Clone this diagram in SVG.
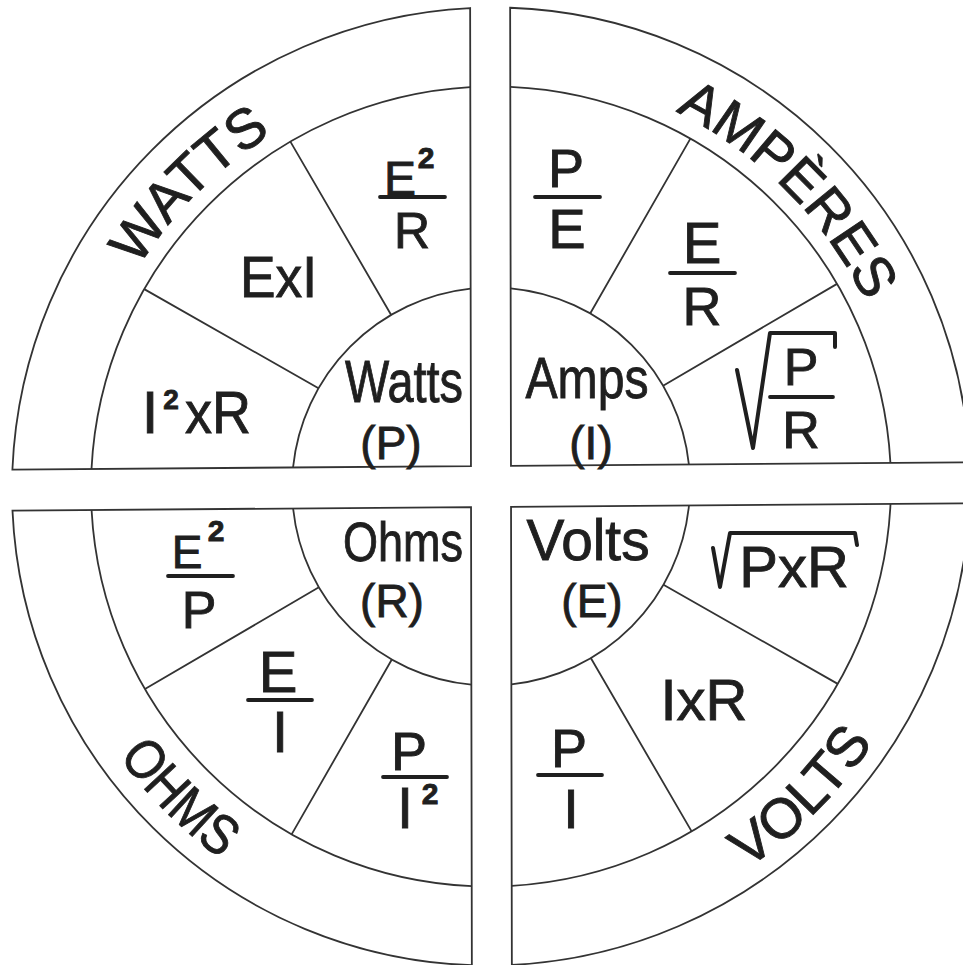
<svg xmlns="http://www.w3.org/2000/svg" width="963" height="965" viewBox="0 0 963 965">
<style>
.q{fill:#fff;stroke:#333;stroke-width:1.8}
.ln{fill:none;stroke:#333;stroke-width:1.8}
.t{font-family:"Liberation Sans",Arial,sans-serif;fill:#1f1f1f;stroke:#1f1f1f;stroke-width:0.9;text-anchor:middle}
.bar{stroke:#1f1f1f;stroke-width:3.8;stroke-linecap:round}
.rad{fill:none;stroke:#1f1f1f;stroke-width:4;stroke-linejoin:round;stroke-linecap:round}
.sup{font-weight:bold}
</style>
<defs>
<path id="pW" d="M82.3,414.4 A415,415 0 0 1 418.9,77.8"/>
<path id="pA" d="M563.6,74.9 A418,418 0 0 1 902.6,413.9"/>
<path id="pO" d="M38,566.4 A460,460 0 0 0 411.1,939.5"/>
<path id="pV" d="M570.9,939.5 A460,460 0 0 0 944,566.4"/>
</defs>
<rect width="963" height="965" fill="#fff"/>

<g id="watts">
 <g transform="matrix(1 -0.0075 0.0018 1 -0.875 3.68)">
  <path class="q" d="M471,466 L471,7.92 A479,479 0 0 0 12.44,466 Z"/>
  <path class="ln" d="M471,87 A400,400 0 0 0 91.53,466"/>
  <path class="ln" d="M471,288.5 A199,199 0 0 0 293.06,466"/>
  <path class="ln" d="M391.5,314.2 L291,140.1 M318.7,387 L144.6,286.5"/>
 </g>
 <text class="t" font-size="56"><textPath href="#pW" startOffset="50%">WATTS</textPath></text>
 <text class="t" x="404" y="402" font-size="60" textLength="118" lengthAdjust="spacingAndGlyphs">Watts</text>
 <text class="t" x="391" y="459" font-size="46">(P)</text>
 <text class="t" x="278.5" y="297" font-size="58" textLength="77" lengthAdjust="spacingAndGlyphs">ExI</text>
 <g id="watts-i2xr">
  <text class="t" x="150" y="433" font-size="60">I</text>
  <text class="t sup" x="171" y="409" font-size="28">2</text>
  <text class="t" x="218" y="433" font-size="60" textLength="66" lengthAdjust="spacingAndGlyphs">xR</text>
 </g>
 <g id="watts-e2r">
  <text class="t" x="400" y="195" font-size="48">E</text>
  <text class="t sup" x="426" y="168" font-size="30">2</text>
  <line class="bar" x1="380" y1="197" x2="445" y2="197"/>
  <text class="t" x="412" y="248" font-size="50">R</text>
 </g>
</g>

<g id="amps">
 <g transform="matrix(1 -0.0075 0.0018 1 -0.875 3.68)">
  <path class="q" d="M511,466 L511,7.92 A479,479 0 0 1 969.56,466 Z"/>
  <path class="ln" d="M511,87 A400,400 0 0 1 890.47,466"/>
  <path class="ln" d="M511,288.5 A199,199 0 0 1 688.94,466"/>
  <path class="ln" d="M590.5,314.2 L691,140.1 M663.3,387 L837.4,286.5"/>
 </g>
 <text class="t" font-size="56"><textPath href="#pA" startOffset="50%">AMPÈRES</textPath></text>
 <text class="t" x="587" y="398" font-size="58" textLength="123" lengthAdjust="spacingAndGlyphs">Amps</text>
 <text class="t" x="591" y="459" font-size="46">(I)</text>
 <g id="amps-pe">
  <text class="t" x="566" y="187" font-size="54">P</text>
  <line class="bar" x1="535" y1="197" x2="600" y2="197"/>
  <text class="t" x="567" y="248" font-size="56">E</text>
 </g>
 <g id="amps-er">
  <text class="t" x="702" y="263" font-size="58">E</text>
  <line class="bar" x1="670" y1="273" x2="735" y2="273"/>
  <text class="t" x="702" y="325" font-size="54">R</text>
 </g>
 <g id="amps-sqrt">
  <polyline class="rad" points="737,370 753,448 770,333 835,333 835,347"/>
  <text class="t" x="801" y="385" font-size="52">P</text>
  <line class="bar" x1="770" y1="397" x2="833" y2="397"/>
  <text class="t" x="801" y="448" font-size="52">R</text>
 </g>
</g>

<g id="ohms">
 <g transform="matrix(1 -0.0075 0.0018 1 -0.875 3.68)">
  <path class="q" d="M471,507 L12.44,507 A479,479 0 0 0 471,965.08 Z"/>
  <path class="ln" d="M91.53,507 A400,400 0 0 0 471,886"/>
  <path class="ln" d="M293.06,507 A199,199 0 0 0 471,684.5"/>
  <path class="ln" d="M318.7,586 L144.6,686.5 M391.5,658.8 L291,832.9"/>
 </g>
 <text class="t" font-size="56"><textPath href="#pO" startOffset="50%" textLength="145" lengthAdjust="spacingAndGlyphs">OHMS</textPath></text>
 <text class="t" x="403" y="561" font-size="56" textLength="120" lengthAdjust="spacingAndGlyphs">Ohms</text>
 <text class="t" x="392" y="617" font-size="46">(R)</text>
 <g id="ohms-e2p">
  <text class="t" x="187" y="568" font-size="46">E</text>
  <text class="t sup" x="216" y="541" font-size="30">2</text>
  <line class="bar" x1="168" y1="576" x2="233" y2="576"/>
  <text class="t" x="199" y="628" font-size="52">P</text>
 </g>
 <g id="ohms-ei">
  <text class="t" x="278" y="692" font-size="58">E</text>
  <line class="bar" x1="248" y1="700" x2="312" y2="700"/>
  <text class="t" x="280" y="752" font-size="58">I</text>
 </g>
 <g id="ohms-pi2">
  <text class="t" x="409" y="770" font-size="54">P</text>
  <line class="bar" x1="383" y1="777" x2="447" y2="777"/>
  <text class="t" x="405" y="828" font-size="58">I</text>
  <text class="t sup" x="430" y="804" font-size="30">2</text>
 </g>
</g>

<g id="volts">
 <g transform="matrix(1 -0.0075 0.0018 1 -0.875 3.68)">
  <path class="q" d="M511,507 L969.56,507 A479,479 0 0 1 511,965.08 Z"/>
  <path class="ln" d="M890.47,507 A400,400 0 0 1 511,886"/>
  <path class="ln" d="M688.94,507 A199,199 0 0 1 511,684.5"/>
  <path class="ln" d="M663.3,586 L837.4,686.5 M590.5,658.8 L691,832.9"/>
 </g>
 <text class="t" font-size="56"><textPath href="#pV" startOffset="50%">VOLTS</textPath></text>
 <text class="t" x="588" y="560" font-size="58" textLength="123" lengthAdjust="spacingAndGlyphs">Volts</text>
 <text class="t" x="592" y="617" font-size="46">(E)</text>
 <g id="volts-sqrt">
  <polyline class="rad" points="713,548 720,587 730,533 855,533 857,545"/>
  <text class="t" x="794" y="587" font-size="58">PxR</text>
 </g>
 <text class="t" x="704" y="720" font-size="58">IxR</text>
 <g id="volts-pi">
  <text class="t" x="569" y="767" font-size="54">P</text>
  <line class="bar" x1="538" y1="775" x2="602" y2="775"/>
  <text class="t" x="571" y="828" font-size="56">I</text>
 </g>
</g>
<g id="connectors"/>
</svg>
